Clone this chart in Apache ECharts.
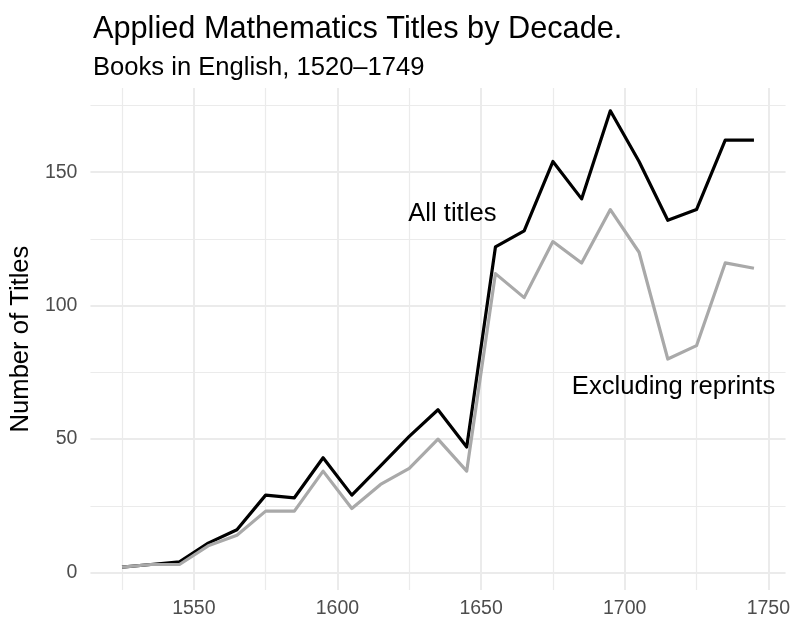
<!DOCTYPE html>
<html>
<head>
<meta charset="utf-8">
<script src="https://cdn.jsdelivr.net/npm/echarts@6/dist/echarts.min.js"></script>
<style>
html,body{margin:0;padding:0;background:#fff;}
#chart{width:793px;height:619px;}
</style>
</head>
<body>
<div id="chart"></div>
<script>
// Decade midpoints (1520s ... 1740s)
var decades = [1525,1535,1545,1555,1565,1575,1585,1595,1605,1615,1625,1635,1645,1655,1665,1675,1685,1695,1705,1715,1725,1735,1745];
var allTitles = [2,3,4,11,16,29,28,43,29,40,51,61,47,122,128,154,140,173,154,132,136,162,162];
var excludingReprints = [2,3,3,10,14,23,23,38,24,33,39,50,38,112,103,124,116,136,120,80,85,116,114];

var xMajorTicks = [1550,1600,1650,1700,1750];
var xMinorTicks = [1525,1575,1625,1675,1725];
var yMajorTicks = [0,50,100,150];
var yMinorTicks = [25,75,125,175];

var seriesNames = ['All titles','Excluding reprints'];
var labelYears = [1640, 1717];
var labelValues = [134.3, 69.5];

var FONT = '"Liberation Sans", Arial, Helvetica, sans-serif';

function pairs(xs, ys){ return xs.map(function(x,i){ return [x, ys[i]]; }); }

var chart = echarts.init(document.getElementById('chart'), null, {renderer:'canvas'});

var gridColor = '#EBEBEB';

chart.setOption({
  animation:false,
  backgroundColor:'#ffffff',
  title:{
    text:'Applied Mathematics Titles by Decade.',
    subtext:'Books in English, 1520\u20131749',
    left:88, top:9,
    itemGap:10,
    textStyle:{fontFamily:FONT, fontSize:30.7, fontWeight:'normal', color:'#000', lineHeight:31},
    subtextStyle:{fontFamily:FONT, fontSize:25.6, color:'#000', lineHeight:26}
  },
  grid:{left:90, right:6, top:88, bottom:29, containLabel:false},
  xAxis:[{
    type:'value', min:1514, max:1756, position:'bottom',
    axisLine:{show:false},
    axisTick:{show:false, customValues:xMajorTicks},
    axisLabel:{customValues:xMajorTicks, formatter:function(v){ return String(v); }, color:'#4D4D4D', fontFamily:FONT, fontSize:19.5, margin:9},
    splitLine:{show:true, lineStyle:{color:gridColor, width:2}}
  },{
    type:'value', min:1514, max:1756, position:'top',
    axisLine:{show:false},
    axisTick:{show:false, customValues:xMinorTicks},
    axisLabel:{show:false, customValues:xMinorTicks},
    splitLine:{show:true, lineStyle:{color:gridColor, width:1.2}}
  }],
  yAxis:[{
    type:'value', min:-6.55, max:181.55, position:'left',
    name:'Number of Titles', nameLocation:'middle', nameGap:53,
    nameTextStyle:{fontFamily:FONT, fontSize:25.6, color:'#000'},
    axisLine:{show:false},
    axisTick:{show:false, customValues:yMajorTicks},
    axisLabel:{customValues:yMajorTicks, formatter:function(v){ return String(v); }, color:'#4D4D4D', fontFamily:FONT, fontSize:19.5, margin:13},
    splitLine:{show:true, lineStyle:{color:gridColor, width:2}}
  },{
    type:'value', min:-6.55, max:181.55, position:'left',
    axisLine:{show:false},
    axisTick:{show:false, customValues:yMinorTicks},
    axisLabel:{show:false, customValues:yMinorTicks},
    splitLine:{show:true, lineStyle:{color:gridColor, width:1.2}}
  }],
  series:[{
    name:seriesNames[0], type:'line', xAxisIndex:0, yAxisIndex:0,
    data:pairs(decades, allTitles),
    showSymbol:false, symbol:'none',
    lineStyle:{color:'#000000', width:3.2, join:'round', cap:'butt'},
    markPoint:{
      symbol:'circle', symbolSize:1, silent:true,
      itemStyle:{color:'rgba(0,0,0,0)'},
      label:{show:true, position:'inside', formatter:'{b}', fontFamily:FONT, fontSize:25.6, color:'#000'},
      data:[{name:seriesNames[0], coord:[labelYears[0], labelValues[0]]}]
    },
    z:2
  },{
    name:seriesNames[1], type:'line', xAxisIndex:0, yAxisIndex:0,
    data:pairs(decades, excludingReprints),
    showSymbol:false, symbol:'none',
    lineStyle:{color:'#A9A9A9', width:3.2, join:'round', cap:'butt'},
    markPoint:{
      symbol:'circle', symbolSize:1, silent:true,
      itemStyle:{color:'rgba(0,0,0,0)'},
      label:{show:true, position:'inside', formatter:'{b}', fontFamily:FONT, fontSize:25.6, color:'#000'},
      data:[{name:seriesNames[1], coord:[labelYears[1], labelValues[1]]}]
    },
    z:3
  }]
});
</script>
</body>
</html>
